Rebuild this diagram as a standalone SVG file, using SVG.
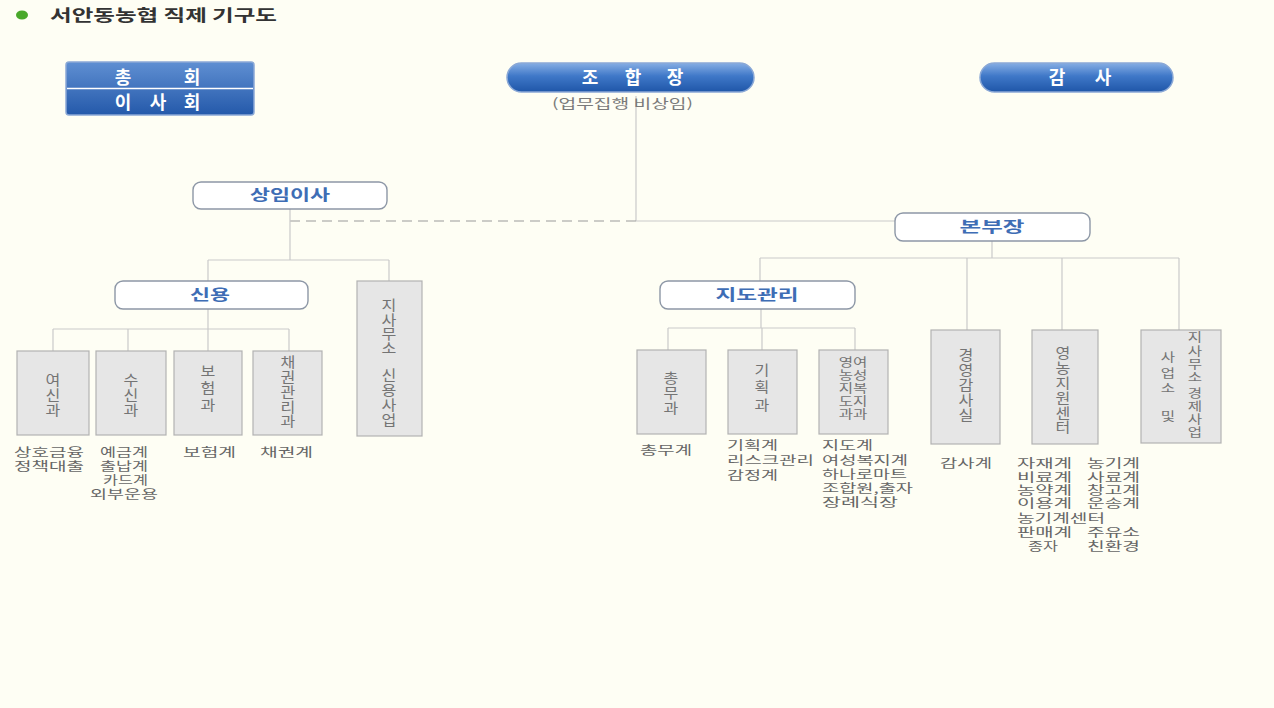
<svg xmlns="http://www.w3.org/2000/svg" width="1274" height="708" viewBox="0 0 1274 708">
<defs>
<linearGradient id="blue" x1="0" y1="0" x2="0" y2="1">
<stop offset="0" stop-color="#86aee4"/>
<stop offset="0.45" stop-color="#3f78c8"/>
<stop offset="1" stop-color="#1f56a8"/>
</linearGradient>
<linearGradient id="blue2" x1="0" y1="0" x2="0" y2="1">
<stop offset="0" stop-color="#5f8fd2"/>
<stop offset="1" stop-color="#2459aa"/>
</linearGradient>
</defs>
<style>
text{font-family:"Noto Sans CJK KR","Noto Sans",sans-serif}
.ln{stroke:#c9c9c9;stroke-width:1.2;fill:none}
.dash{stroke:#9a9a9a;stroke-width:1.2;fill:none;stroke-dasharray:10 6}
.box{fill:#e6e6e6;stroke:#b2b2b2;stroke-width:1.2}
.bt{font-size:14px;fill:#747474;text-anchor:middle}
.bs{font-size:12px;fill:#747474;text-anchor:middle}
.rn{fill:#ffffff;stroke:#8d97a6;stroke-width:1.4}
.rt{font-size:15px;font-weight:bold;fill:#3e6db5;text-anchor:middle}
.pill{fill:url(#blue);stroke:#8aa8d6;stroke-width:1.5}
.pt{font-size:18px;font-weight:bold;fill:#ffffff;text-anchor:middle}
.lbl{font-size:12px;fill:#666666}
</style>
<rect x="0" y="0" width="1274" height="708" fill="#fefef4"/>

<g id="title">
<ellipse cx="22" cy="15" rx="6" ry="4.5" fill="#49a82a"/>
<text x="50" y="21" font-size="16" font-weight="bold" fill="#333333" textLength="227" lengthAdjust="spacingAndGlyphs">서안동농협 직제 기구도</text>
</g>

<g id="connectors">
<line class="ln" x1="636" y1="96" x2="636" y2="221"/>
<line class="dash" x1="290" y1="221" x2="636" y2="221"/>
<line class="ln" x1="636" y1="221" x2="895" y2="221"/>
<line class="ln" x1="290" y1="209" x2="290" y2="260"/>
<line class="ln" x1="208" y1="260" x2="389" y2="260"/>
<line class="ln" x1="208" y1="260" x2="208" y2="281"/>
<line class="ln" x1="389" y1="260" x2="389" y2="281"/>
<line class="ln" x1="208" y1="309" x2="208" y2="329"/>
<line class="ln" x1="53" y1="329" x2="289" y2="329"/>
<line class="ln" x1="53" y1="329" x2="53" y2="351"/>
<line class="ln" x1="128" y1="329" x2="128" y2="351"/>
<line class="ln" x1="208" y1="329" x2="208" y2="351"/>
<line class="ln" x1="289" y1="329" x2="289" y2="351"/>
<line class="ln" x1="992" y1="241" x2="992" y2="258"/>
<line class="ln" x1="760" y1="258" x2="1179" y2="258"/>
<line class="ln" x1="760" y1="258" x2="760" y2="281"/>
<line class="ln" x1="967" y1="258" x2="967" y2="330"/>
<line class="ln" x1="1062" y1="258" x2="1062" y2="330"/>
<line class="ln" x1="1179" y1="258" x2="1179" y2="330"/>
<line class="ln" x1="761" y1="309" x2="761" y2="328"/>
<line class="ln" x1="668" y1="328" x2="855" y2="328"/>
<line class="ln" x1="668" y1="328" x2="668" y2="350"/>
<line class="ln" x1="762" y1="328" x2="762" y2="350"/>
<line class="ln" x1="855" y1="328" x2="855" y2="350"/>
</g>

<g id="n-chonghoe">
<rect x="66" y="62" width="188" height="53" rx="3" fill="url(#blue2)" stroke="#8aa8d6" stroke-width="1.5"/>
<line x1="67" y1="88.5" x2="253" y2="88.5" stroke="#ffffff" stroke-width="1.5"/>
<text class="pt" font-size="17" x="123 192" y="84">총회</text>
<text class="pt" font-size="17" x="123 158 192" y="109">이사회</text>
</g>

<g id="n-johapjang">
<rect class="pill" x="507" y="63" width="247" height="29" rx="14.5"/>
<text class="pt" font-size="19" x="590 633 675" y="84">조합장</text>
<text x="552" y="108" font-size="13" fill="#7a7a7a" textLength="141" lengthAdjust="spacingAndGlyphs">(업무집행 비상임)</text>
</g>

<g id="n-gamsa">
<rect class="pill" x="980" y="63" width="193" height="29" rx="14.5"/>
<text class="pt" font-size="19" x="1057 1103" y="84">감사</text>
</g>

<g id="n-sangim">
<rect class="rn" x="193" y="182" width="194" height="27" rx="8"/>
<text class="rt" x="290" y="200" textLength="80" lengthAdjust="spacingAndGlyphs">상임이사</text>
</g>

<g id="n-bonbu">
<rect class="rn" x="895" y="213" width="195" height="28" rx="8"/>
<text class="rt" x="992" y="232" textLength="65" lengthAdjust="spacingAndGlyphs">본부장</text>
</g>

<g id="n-sinyong">
<rect class="rn" x="115" y="281" width="193" height="28" rx="8"/>
<text class="rt" x="210" y="300" textLength="40" lengthAdjust="spacingAndGlyphs">신용</text>
</g>

<g id="n-jido">
<rect class="rn" x="660" y="281" width="195" height="28" rx="8"/>
<text class="rt" x="757" y="300" textLength="83" lengthAdjust="spacingAndGlyphs">지도관리</text>
</g>

<g id="n-yeosin">
<rect class="box" x="17" y="351" width="72" height="84"/>
<g transform="translate(53 0) scale(1.15 1)"><text class="bt" x="0 0 0" y="385 400 415">여신과</text></g>
</g>
<g id="n-susin">
<rect class="box" x="96" y="351" width="70" height="84"/>
<g transform="translate(131 0) scale(1.15 1)"><text class="bt" x="0 0 0" y="385 400 415">수신과</text></g>
</g>
<g id="n-boheom">
<rect class="box" x="174" y="351" width="68" height="84"/>
<g transform="translate(208 0) scale(1.15 1)"><text class="bt" x="0 0 0" y="376 393 410">보험과</text></g>
</g>
<g id="n-chaegwon">
<rect class="box" x="253" y="351" width="69" height="84"/>
<g transform="translate(288 0) scale(1.15 1)"><text class="bt" x="0 0 0 0 0" y="367 382 397 412 426">채권관리과</text></g>
</g>
<g id="n-jisamuso-sinyong">
<rect class="box" x="357" y="281" width="65" height="155"/>
<g transform="translate(389 0) scale(1.15 1)"><text class="bt" x="0 0 0 0 0 0 0 0" y="310 325 339 353 380 395 410 425">지사무소신용사업</text></g>
</g>

<g id="n-chongmu">
<rect class="box" x="637" y="350" width="69" height="84"/>
<g transform="translate(671 0) scale(1.15 1)"><text class="bt" x="0 0 0" y="383 398 413">총무과</text></g>
</g>
<g id="n-gihoek">
<rect class="box" x="728" y="350" width="69" height="84"/>
<g transform="translate(762 0) scale(1.15 1)"><text class="bt" x="0 0 0" y="375 392 410">기획과</text></g>
</g>
<g id="n-yeongnong-yeoseong">
<rect class="box" x="819" y="350" width="69" height="84"/>
<g transform="translate(853 0) scale(1.3 1)">
<text class="bs" x="0" y="367">영여</text>
<text class="bs" x="0" y="380">농성</text>
<text class="bs" x="0" y="393">지복</text>
<text class="bs" x="0" y="406">도지</text>
<text class="bs" x="0" y="419">과과</text>
</g>
</g>

<g id="n-gyeongyeong">
<rect class="box" x="931" y="330" width="69" height="114"/>
<g transform="translate(966 0) scale(1.15 1)"><text class="bt" x="0 0 0 0 0" y="360 375 390 405 420">경영감사실</text></g>
</g>
<g id="n-yeongnongjiwon">
<rect class="box" x="1032" y="330" width="66" height="114"/>
<g transform="translate(1063 0) scale(1.15 1)"><text class="bt" x="0 0 0 0 0 0" y="358 373 388 403 418 432">영농지원센터</text></g>
</g>
<g id="n-jisamuso-gyeongje">
<rect class="box" x="1141" y="330" width="80" height="113"/>
<g transform="translate(1195 0) scale(1.3 1)"><text class="bs" x="0 0 0 0 0 0 0 0" y="342 356 369 382 398 411 424 437">지사무소경제사업</text></g>
<g transform="translate(1168 0) scale(1.3 1)"><text class="bs" x="0 0 0 0" y="362 378 393 421">사업소및</text></g>
</g>

<g id="labels">
<text class="lbl" x="14" y="457" textLength="70" lengthAdjust="spacingAndGlyphs">상호금융</text>
<text class="lbl" x="14" y="471" textLength="70" lengthAdjust="spacingAndGlyphs">정책대출</text>
<text class="lbl" x="100" y="457" textLength="48" lengthAdjust="spacingAndGlyphs">예금계</text>
<text class="lbl" x="100" y="471" textLength="48" lengthAdjust="spacingAndGlyphs">출납계</text>
<text class="lbl" x="103" y="485" textLength="45" lengthAdjust="spacingAndGlyphs">카드계</text>
<text class="lbl" x="90" y="499" textLength="68" lengthAdjust="spacingAndGlyphs">외부운용</text>
<text class="lbl" x="183" y="457" textLength="53" lengthAdjust="spacingAndGlyphs">보험계</text>
<text class="lbl" x="260" y="457" textLength="53" lengthAdjust="spacingAndGlyphs">채권계</text>

<text class="lbl" x="640" y="455" textLength="52" lengthAdjust="spacingAndGlyphs">총무계</text>
<text class="lbl" x="727" y="450" textLength="51" lengthAdjust="spacingAndGlyphs">기획계</text>
<text class="lbl" x="727" y="465" textLength="87" lengthAdjust="spacingAndGlyphs">리스크관리</text>
<text class="lbl" x="727" y="480" textLength="51" lengthAdjust="spacingAndGlyphs">감정계</text>
<text class="lbl" x="822" y="450" textLength="51" lengthAdjust="spacingAndGlyphs">지도계</text>
<text class="lbl" x="822" y="465" textLength="86" lengthAdjust="spacingAndGlyphs">여성복지계</text>
<text class="lbl" x="822" y="479" textLength="85" lengthAdjust="spacingAndGlyphs">하나로마트</text>
<text class="lbl" x="822" y="493" textLength="91" lengthAdjust="spacingAndGlyphs">조합원,출자</text>
<text class="lbl" x="822" y="507" textLength="76" lengthAdjust="spacingAndGlyphs">장례식장</text>

<text class="lbl" x="940" y="468" textLength="52" lengthAdjust="spacingAndGlyphs">감사계</text>
<text class="lbl" x="1017" y="468" textLength="55" lengthAdjust="spacingAndGlyphs">자재계</text>
<text class="lbl" x="1017" y="482" textLength="55" lengthAdjust="spacingAndGlyphs">비료계</text>
<text class="lbl" x="1017" y="495" textLength="55" lengthAdjust="spacingAndGlyphs">농약계</text>
<text class="lbl" x="1017" y="508" textLength="55" lengthAdjust="spacingAndGlyphs">이용계</text>
<text class="lbl" x="1017" y="523" textLength="88" lengthAdjust="spacingAndGlyphs">농기계센터</text>
<text class="lbl" x="1017" y="537" textLength="55" lengthAdjust="spacingAndGlyphs">판매계</text>
<text class="lbl" x="1028" y="551" textLength="30" lengthAdjust="spacingAndGlyphs">종자</text>
<text class="lbl" x="1087" y="468" textLength="53" lengthAdjust="spacingAndGlyphs">농기계</text>
<text class="lbl" x="1087" y="482" textLength="53" lengthAdjust="spacingAndGlyphs">사료계</text>
<text class="lbl" x="1087" y="495" textLength="53" lengthAdjust="spacingAndGlyphs">창고계</text>
<text class="lbl" x="1087" y="508" textLength="53" lengthAdjust="spacingAndGlyphs">운송계</text>
<text class="lbl" x="1087" y="537" textLength="53" lengthAdjust="spacingAndGlyphs">주유소</text>
<text class="lbl" x="1087" y="551" textLength="53" lengthAdjust="spacingAndGlyphs">친환경</text>
</g>
</svg>
